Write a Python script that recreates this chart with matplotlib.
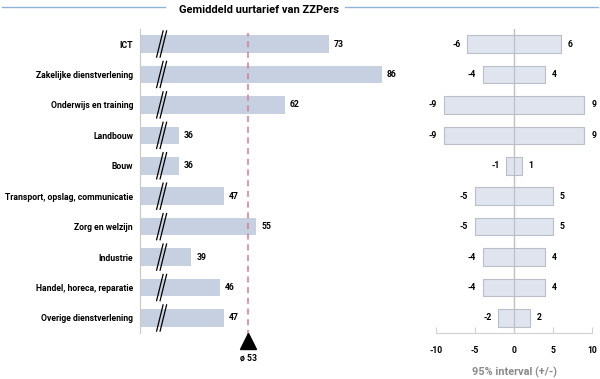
import numpy as np
import matplotlib.pyplot as plt
from matplotlib.lines import Line2D
import matplotlib.transforms as mtransforms

plt.rcParams['font.family'] = ['Roboto', 'DejaVu Sans']

# data
sectors = ["ICT", "Zakelijke dienstverlening", "Onderwijs en training", "Landbouw",
           "Bouw", "Transport, opslag, communicatie", "Zorg en welzijn", "Industrie",
           "Handel, horeca, reparatie", "Overige dienstverlening"]
rates = [73, 86, 62, 36, 36, 47, 55, 39, 46, 47]
interval = [6, 4, 9, 9, 1, 5, 5, 4, 4, 2]
mean_rate = 53
ci_ticks = [-10, -5, 0, 5, 10]

W, H = 600, 379
BAR_COLOR = "#c7d0e0"
CI_FILL = "#dfe4ee"
CI_EDGE = "#b9bec7"
MEAN_COLOR = "#d37b9b"
FS = 6.2

fig = plt.figure(figsize=(6, 3.79), dpi=100)

def px_axes(x0, x1, y_top, y_bot):
    return fig.add_axes([x0 / W, 1 - y_bot / H, (x1 - x0) / W, (y_bot - y_top) / H])

y = np.arange(len(sectors))

# left panel: hourly rates with broken axis
ax = px_axes(140, 400, 28.8, 333.2)
ax.barh(y, rates, left=0, height=0.58, color=BAR_COLOR)
ax.set_xlim(26.3, 90.5)
ax.set_ylim(len(sectors) - 0.5, -0.5)
for s in ["top", "right", "bottom"]:
    ax.spines[s].set_visible(False)
ax.spines["left"].set_color("#c8c8c8")
ax.set_xticks([])
ax.set_yticks(y)
ax.set_yticklabels(sectors, fontsize=FS, fontweight="bold")
ax.tick_params(axis="y", length=0, pad=5)
for yi, v in zip(y, rates):
    ax.annotate(str(v), (v, yi), xytext=(3.5, 0), textcoords="offset points",
                va="center", ha="left", fontsize=FS, fontweight="bold")

# break marks
for yi in y:
    for dx in (0, 3.5):
        off = mtransforms.offset_copy(ax.transData, fig=fig, x=dx * 0.72, y=0, units="points")
        ax.add_line(Line2D([30.4, 32.0], [yi + 0.43, yi - 0.43], color="black", lw=0.9,
                           transform=off, clip_on=False))

# mean line with marker
ax.axvline(mean_rate, ymin=-0.01, ymax=0.985, color=MEAN_COLOR, ls=(0, (4, 3)), lw=1.1,
           clip_on=False)
ax.plot([mean_rate], [9.76], marker="^", markersize=11, color="black", clip_on=False)
ax.text(mean_rate, 10.3, "ø 53", ha="center", va="center", fontsize=FS,
        fontweight="bold")

# right panel: 95% interval
ax2 = px_axes(436, 592, 28.8, 333.2)
neg = [-v for v in interval]
ax2.barh(y, interval, height=0.58, color=CI_FILL, edgecolor=CI_EDGE, lw=0.8)
ax2.barh(y, neg, height=0.58, color=CI_FILL, edgecolor=CI_EDGE, lw=0.8)
ax2.axvline(0, color="#c0c0c0", lw=1.0, zorder=0)
ax2.set_xlim(-10, 10)
ax2.set_ylim(len(sectors) - 0.5, -0.5)
for s in ["top", "right", "left"]:
    ax2.spines[s].set_visible(False)
ax2.spines["bottom"].set_color("#d0d0d0")
ax2.set_yticks([])
ax2.set_xticks(ci_ticks)
ax2.set_xticklabels([str(t) for t in ci_ticks], fontsize=FS, fontweight="bold")
ax2.tick_params(axis="x", direction="in", length=4, color="#d0d0d0", pad=9)
for yi, v in zip(y, interval):
    ax2.annotate(str(v), (v, yi), xytext=(5, 0), textcoords="offset points",
                 va="center", ha="left", fontsize=FS, fontweight="bold")
    ax2.annotate(str(-v), (-v, yi), xytext=(-5, 0), textcoords="offset points",
                 va="center", ha="right", fontsize=FS, fontweight="bold")
ax2.set_xlabel("95% interval (+/-)", fontsize=7.8, fontweight="bold", color="#8a8a8a",
               labelpad=9)

# title with rules
fig.text(259 / W, 1 - 10 / H, "Gemiddeld uurtarief van ZZPers", ha="center", va="center",
         fontsize=8.0, fontweight="bold")
fig.add_artist(Line2D([2 / W, 165 / W], [1 - 7 / H] * 2, color="#8fb4da", lw=1.0))
fig.add_artist(Line2D([345 / W, 598 / W], [1 - 7 / H] * 2, color="#8fb4da", lw=1.0))

fig.savefig("out.png", dpi=100, facecolor="white")
